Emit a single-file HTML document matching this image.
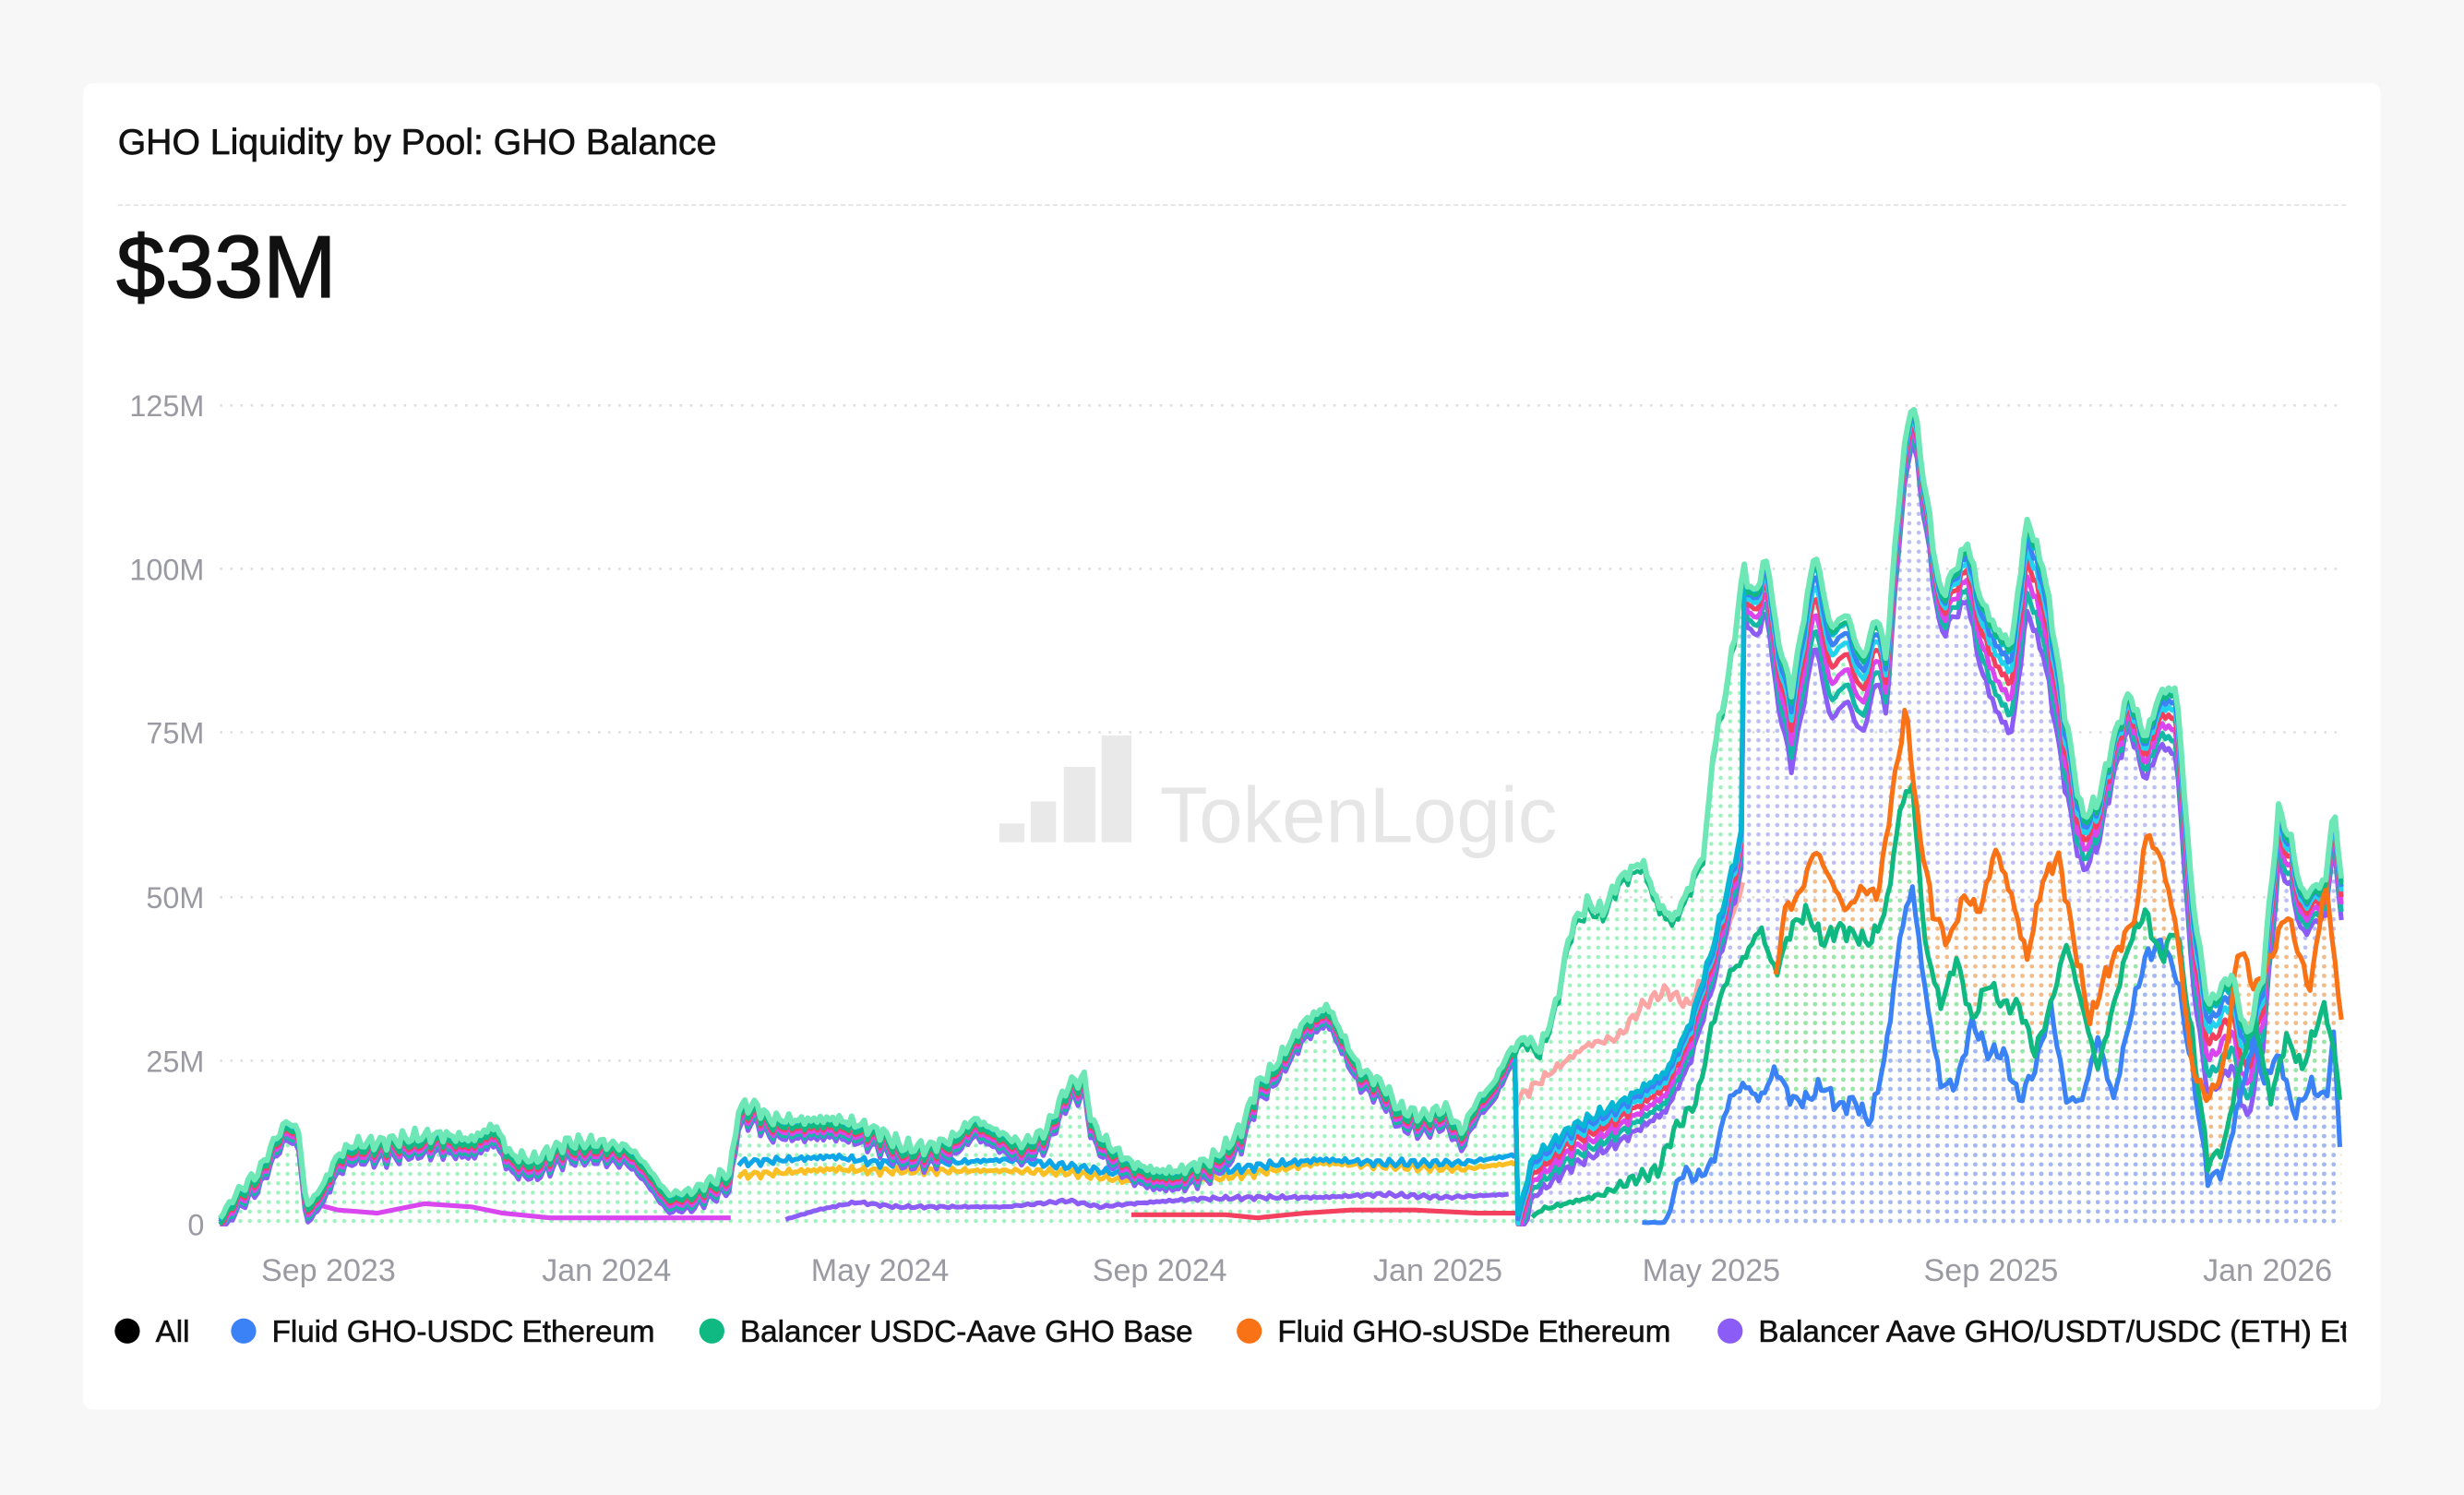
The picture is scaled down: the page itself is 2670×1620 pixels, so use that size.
<!DOCTYPE html>
<html><head><meta charset="utf-8">
<style>
html,body{margin:0;padding:0;background:#f7f7f7;width:2670px;height:1620px;overflow:hidden}
#w{position:absolute;left:0;top:0;width:1568px;height:951px;transform:scale(1.70281);transform-origin:0 0;font-family:"Liberation Sans",sans-serif}
#card{position:absolute;left:53px;top:53px;width:1462px;height:844px;background:#fff;border-radius:6px}
.t{position:absolute;left:75px;top:77px;font-size:23px;color:#111;-webkit-text-stroke:0.4px #111}
.big{position:absolute;left:74px;top:137px;font-size:56px;color:#111;-webkit-text-stroke:0.8px #111}
.hr{position:absolute;left:75px;top:130px;width:1418px;border-top:1.5px dashed #e2e2e2}
</style></head><body>
<div id="w">
<div id="card"></div>
<div class="t">GHO Liquidity by Pool: GHO Balance</div>
<div class="hr"></div>
<div class="big">$33M</div>
<svg id="s" width="1568" height="951" style="position:absolute;left:0;top:0" font-family="Liberation Sans, sans-serif">
<defs>
<pattern id="pb" width="6" height="6" patternUnits="userSpaceOnUse"><circle cx="3" cy="3" r="1.3" fill="#a5b4fc"/></pattern>
<pattern id="pg" width="6" height="6" patternUnits="userSpaceOnUse"><circle cx="3" cy="3" r="1.3" fill="#86efac"/></pattern>
<pattern id="po" width="6" height="6" patternUnits="userSpaceOnUse"><circle cx="3" cy="3" r="1.3" fill="#fdba74"/></pattern>
<pattern id="pp" width="6" height="6" patternUnits="userSpaceOnUse"><circle cx="3" cy="3" r="1.3" fill="#c4b5fd"/></pattern>
<clipPath id="cl"><rect x="53" y="53" width="1440" height="844"/></clipPath>
</defs>
<g id="grid"></g>
<g fill="#e9e9e9">
<rect x="636" y="524" width="16" height="12"/><rect x="656" y="510" width="16" height="26"/><rect x="677" y="488" width="20" height="48"/><rect x="701" y="468" width="19" height="68"/>
<text x="738" y="536" font-size="50" fill="#e6e6e6">TokenLogic</text>
</g>
<g id="fills"></g>
<g id="lines" fill="none" stroke-width="3" stroke-linejoin="round"></g>
<g font-size="20" fill="#9a9aa2" text-anchor="middle">
<text x="209" y="815">Sep 2023</text><text x="386" y="815">Jan 2024</text><text x="560" y="815">May 2024</text><text x="738" y="815">Sep 2024</text><text x="915" y="815">Jan 2025</text><text x="1089" y="815">May 2025</text><text x="1267" y="815">Sep 2025</text><text x="1443" y="815">Jan 2026</text>
</g>
<g font-size="19" fill="#9a9aa2" text-anchor="end">
<text x="130" y="265">125M</text><text x="130" y="369">100M</text><text x="130" y="473">75M</text><text x="130" y="578">50M</text><text x="130" y="682">25M</text><text x="130" y="786">0</text>
</g>
<g clip-path="url(#cl)" font-size="19.5" fill="#111" stroke="#111" stroke-width="0.35">
<circle cx="81" cy="847" r="8" fill="#000" stroke="none"/><text x="99" y="854">All</text>
<circle cx="155" cy="847" r="8" fill="#3b82f6" stroke="none"/><text x="173" y="854">Fluid GHO-USDC Ethereum</text>
<circle cx="453" cy="847" r="8" fill="#10b981" stroke="none"/><text x="471" y="854">Balancer USDC-Aave GHO Base</text>
<circle cx="795" cy="847" r="8" fill="#f97316" stroke="none"/><text x="813" y="854">Fluid GHO-sUSDe Ethereum</text>
<circle cx="1101" cy="847" r="8" fill="#8b5cf6" stroke="none"/><text x="1119" y="854">Balancer Aave GHO/USDT/USDC (ETH) Ethereum</text>
</g>
</svg>
</div>
<script>
(function(){
const NS="http://www.w3.org/2000/svg";
function el(p,t,a){const e=document.createElementNS(NS,t);for(const k in a)e.setAttribute(k,a[k]);document.getElementById(p).appendChild(e);return e;}
[258,362,466,571,675].forEach(y=>el("grid","line",{x1:140,x2:1490,y1:y,y2:y,stroke:"#dedede","stroke-dasharray":"1.5 5","stroke-width":1.5}));
const TOP=[[140,775],[150,760],[165,745],[175,725],[183,713],[190,720],[195,768],[205,755],[215,735],[225,728],[240,727],[260,724],[280,722],[300,725],[315,716],[325,735],[340,738],[360,727],[380,727],[400,730],[410,740],[425,760],[440,758],[455,750],[465,745],[470,705],[480,703],[490,712],[510,713],[530,712],[545,715],[560,720],[575,730],[590,730],[605,725],[620,712],[635,720],[650,728],[665,720],[680,690],[690,686],[695,715],[705,728],[720,740],[735,745],[750,745],[770,738],[780,730],[790,718],[800,690],[810,680],[820,665],[830,650],[845,640],[855,660],[865,680],[880,690],[890,705],[905,710],[920,705],[930,720],[940,700],[950,690],[960,670],[970,660],[980,668],[990,640],[1000,590],[1010,575],[1020,580],[1030,560],[1045,548],[1055,575],[1065,585],[1075,565],[1085,540],[1090,480],[1100,430],[1110,360],[1115,380],[1125,355],[1130,400],[1140,440],[1150,380],[1155,350],[1165,400],[1175,390],[1185,420],[1195,390],[1200,420],[1210,300],[1217,252],[1225,310],[1235,380],[1245,360],[1252,345],[1260,380],[1270,400],[1280,410],[1290,330],[1300,360],[1305,390],[1315,460],[1325,520],[1335,510],[1345,470],[1355,440],[1365,470],[1375,440],[1385,438],[1395,570],[1405,640],[1420,620],[1430,660],[1440,620],[1450,515],[1458,535],[1465,570],[1480,560],[1485,512],[1490,560]];
const BLUE=[[1045,778],[1060,778],[1070,745],[1080,750],[1090,740],[1100,700],[1110,690],[1120,700],[1130,680],[1140,700],[1150,700],[1160,690],[1170,705],[1180,700],[1190,715],[1200,670],[1210,590],[1217,565],[1225,630],[1235,690],[1245,690],[1255,650],[1265,670],[1275,670],[1285,700],[1295,680],[1305,640],[1315,700],[1325,700],[1335,660],[1345,700],[1355,650],[1365,610],[1375,600],[1385,620],[1395,680],[1405,750],[1415,745],[1425,700],[1435,660],[1440,690],[1450,670],[1460,710],[1470,690],[1480,700],[1485,660],[1490,740]];
const GREEN=[[975,775],[980,770],[1000,765],[1020,760],[1040,750],[1055,745],[1065,720],[1080,700],[1090,650],[1100,620],[1110,610],[1120,590],[1130,620],[1140,590],[1150,580],[1160,600],[1170,590],[1180,595],[1190,600],[1200,580],[1210,510],[1217,500],[1225,600],[1235,640],[1245,610],[1255,650],[1265,625],[1275,640],[1285,640],[1295,670],[1305,640],[1315,600],[1325,640],[1335,680],[1345,640],[1355,600],[1365,580],[1375,610],[1385,590],[1395,660],[1405,740],[1415,730],[1425,680],[1435,650],[1445,700],[1455,660],[1465,680],[1475,650],[1480,640],[1490,700]];
const ORANGE=[[1130,625],[1135,580],[1145,570],[1155,540],[1165,560],[1175,580],[1185,565],[1195,570],[1205,500],[1213,450],[1220,520],[1230,580],[1240,600],[1250,570],[1260,580],[1270,540],[1280,570],[1290,610],[1300,560],[1310,545],[1320,600],[1330,650],[1340,620],[1350,600],[1360,580],[1365,530],[1375,545],[1385,590],[1395,680],[1405,700],[1415,680],[1425,600],[1435,630],[1445,610],[1455,580],[1470,630],[1480,560],[1490,650]];
const CC=[[965,775],[975,735],[1000,715],[1030,700],[1045,690],[1060,680],[1075,650],[1090,600],[1100,560],[1110,520]];
function interp(a,x){if(x<=a[0][0])return a[0][1];for(let i=1;i<a.length;i++)if(x<=a[i][0]){const t=(x-a[i-1][0])/(a[i][0]-a[i-1][0]);return a[i-1][1]+t*(a[i][1]-a[i-1][1]);}return a[a.length-1][1];}
function nz(x,s){return s*(2.2*Math.sin(x*0.9)+1.8*Math.sin(x*2.3+1)+1.4*Math.sin(x*4.7+2));}
function res(a,s){const r=[];for(let x=a[0][0];x<=a[a.length-1][0];x+=2){const amp=Math.min(1,(779-interp(a,x))/30);r.push([x,Math.min(779,interp(a,x)+nz(x,s)*amp)]);}return r;}
function path(a){return "M"+a.map(p=>p[0].toFixed(1)+","+p[1].toFixed(1)).join("L");}
function area(a){return path(a)+"L"+a[a.length-1][0]+",779L"+a[0][0]+",779Z";}
const T=res(TOP,1.1);
function tAt(x){return interp(T,x);}
function cluster(d,x0,x1){const r=[];for(let x=x0;x<=x1;x+=2){let y;const t=tAt(x);if(x<965)y=t+d*0.25;else if(x<1110)y=Math.max(interp(CC,x)+d*0.6+nz(x,0.8),t);else y=t+d*(0.6+0.4*Math.sin(x*0.05))+d*0.3;r.push([x,Math.min(y,779)]);}return r;}
const B=res(BLUE,1.2),G=res(GREEN,1.2),O=res(ORANGE,1.2);
el("fills","path",{d:area(T),fill:"url(#pg)",opacity:0.8});
el("fills","path",{d:area(cluster(45,965,1490)),fill:"url(#pp)",opacity:0.9});
el("fills","path",{d:area(O),fill:"url(#po)",opacity:0.9});
el("fills","path",{d:area(G),fill:"url(#pg)",opacity:0.9});
el("fills","path",{d:area(B),fill:"url(#pb)",opacity:1});
el("lines","path",{d:"M200,766L215,770L240,772L270,766L300,768L320,772L350,775L465,775",stroke:"#d946ef"});
el("lines","path",{d:path(res([[500,776],[520,770],[545,765],[570,768],[600,768],[640,768],[680,764],[700,768],[720,766],[760,763],[800,762],[840,762],[880,760],[920,762],[960,760]],0.5)),stroke:"#8b5cf6"});
el("lines","path",{d:"M720,773L780,773L800,775L830,772L860,770L900,770L940,772L968,772",stroke:"#f43f5e"});
el("lines","path",{d:path(res([[470,748],[500,746],[530,744],[560,745],[600,745],[640,745],[680,746],[720,752],[760,752],[800,746],[840,740],[880,742],[930,744],[965,740]],0.6)),stroke:"#fbbf24"});
el("lines","path",{d:path(res([[470,740],[500,738],[530,736],[560,740],[600,740],[640,738],[680,742],[720,748],[760,748],[800,742],[840,738],[880,740],[930,740],[965,735]],0.6)),stroke:"#0ea5e9"});
el("lines","path",{d:path(res([[965,700],[990,680],[1010,665],[1030,660],[1045,640],[1060,630],[1075,640],[1090,610],[1100,590],[1110,560]],1)),stroke:"#fca5a5"});
const cols=[["#8b5cf6",45],["#14b8a6",36],["#d946ef",28],["#f43f5e",20],["#22d3ee",14],["#3b82f6",9],["#06b6d4",4]];
cols.forEach(c=>el("lines","path",{d:path(cluster(c[1],140,1490)),stroke:c[0]}));
el("lines","path",{d:path(B),stroke:"#3b82f6"});
el("lines","path",{d:path(G),stroke:"#10b981"});
el("lines","path",{d:path(O),stroke:"#f97316"});
el("lines","path",{d:path(T.map(p=>[p[0],p[1]+4])),stroke:"#10b981","stroke-width":2.5});
el("lines","path",{d:path(T),stroke:"#6ee7b7","stroke-width":3.5});
})();
</script>
</body></html>
